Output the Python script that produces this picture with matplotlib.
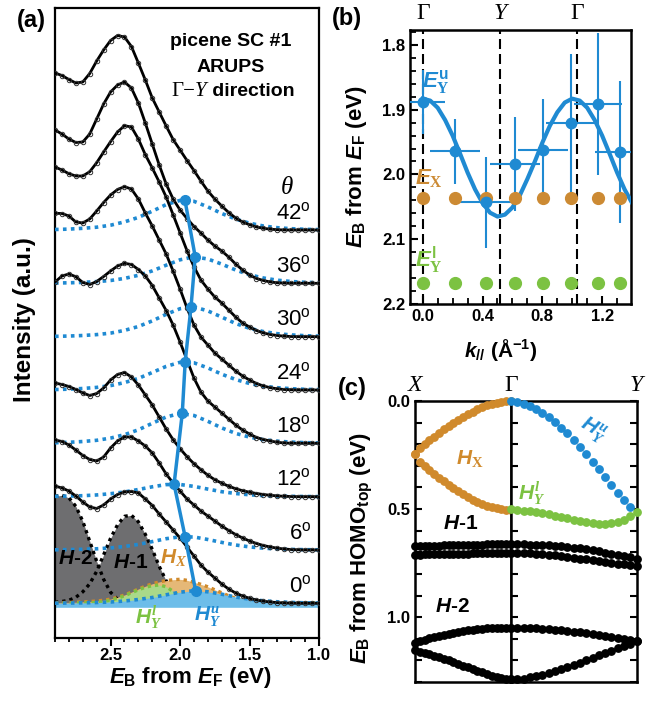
import numpy as np
import matplotlib
matplotlib.use('Agg')
import matplotlib.pyplot as plt
from matplotlib.ticker import MultipleLocator
from matplotlib.offsetbox import TextArea, HPacker, AnnotationBbox

plt.rcParams['font.family'] = ['Liberation Sans', 'DejaVu Sans']
plt.rcParams['font.weight'] = 'bold'
plt.rcParams['mathtext.fontset'] = 'custom'
plt.rcParams['mathtext.rm'] = 'Liberation Sans:bold'
plt.rcParams['mathtext.it'] = 'Liberation Sans:italic:bold'
plt.rcParams['mathtext.bf'] = 'Liberation Sans:bold'
plt.rcParams['mathtext.sf'] = 'Liberation Serif:italic'
plt.rcParams['mathtext.tt'] = 'Liberation Serif'

# colours
blue = '#1f8ad2'
blue_fill = '#6dbde9'
orange = '#d08a2c'
orange_fill = '#e5b877'
green = '#7cc242'
green_fill = '#a9d98a'
gray_fill = '#6e6e70'

# ---------------- panel (a) data ----------------
E_fine = [2.90, 2.85, 2.80, 2.75, 2.70, 2.65, 2.60, 2.55, 2.50, 2.45,
          2.40, 2.35, 2.30, 2.25, 2.20, 2.15, 2.10, 2.05, 2.00, 1.95,
          1.90, 1.85, 1.80, 1.75, 1.70, 1.65, 1.60, 1.55, 1.50, 1.45,
          1.40, 1.35, 1.30, 1.25, 1.20, 1.15, 1.10, 1.05, 1.00]
E_coarse = [2.9, 2.8, 2.7, 2.6, 2.5, 2.4, 2.3, 2.2, 2.1, 2.0,
            1.9, 1.8, 1.7, 1.6, 1.5, 1.4, 1.3, 1.2, 1.1, 1.0]

angles = ['0', '6', '12', '18', '24', '30', '36', '42']
offsets = [34.7, 88.0, 141.3, 194.7, 248.0, 301.3, 354.7, 408.0]

spec_00 = [117.3, 115.3, 112.3, 107.3, 101.3, 96.3, 94.8, 98.3, 104.3, 108.8,
           111.3, 111.8, 110.3, 104.3, 97.8, 89.3, 81.3, 73.3, 65.3, 56.3,
           47.3, 38.3, 31.3, 25.3, 19.3, 14.3, 10.3, 7.3, 5.0, 3.3,
           2.1, 1.3, 0.7, 0.3, 0.1, 0, 0, 0, 0]
spec_06 = [110, 108.5, 105, 100, 94.5, 90.5, 89, 93, 102, 109,
           113, 113, 109, 104, 97, 87, 76, 67, 59, 51,
           45, 39, 34, 29, 24, 19.5, 15.5, 12, 9, 6.5,
           4.5, 3, 1.8, 1, 0.5, 0.2, 0, 0, 0]
spec_12 = [113.7, 112.2, 110.2, 107.2, 103.7, 101.2, 103.2, 108.7, 116.7, 122.2,
           124.2, 119.7, 111.7, 101.7, 91.7, 79.7, 67.7, 57, 48, 40,
           33, 27, 21.5, 17, 13.5, 10.5, 8, 6, 4.5, 3.2,
           2.2, 1.4, 0.8, 0.4, 0.2, 0, 0, 0, 0]
spec_18 = [161.3, 167.3, 169.3, 166.6, 160.8, 158.8, 161.8, 166.8, 172.3, 177.3,
           180, 178.8, 173.8, 167.3, 157.8, 145.3, 132.8, 118.3, 101.3, 83.3,
           65.3, 51.3, 42.3, 36.3, 30.3, 24.3, 18.3, 13.3, 9.3, 5.8,
           3.8, 2.3, 1, 0.3, 0, 0, 0, 0, 0]
spec_24 = [176.7, 176.5, 174, 168, 167, 171, 179, 187.5, 195, 200.5,
           203.3, 201, 191, 177, 164, 150, 136, 119, 101, 82,
           65, 53, 45, 37, 31, 25, 19, 14, 10, 6.5,
           4, 2.3, 1.2, 0.5, 0.2, 0, 0, 0, 0]
spec_30 = [169.7, 166.7, 163, 160.7, 160.7, 165, 174, 184.7, 195, 204.7,
           211, 209.7, 197.7, 182, 168.7, 154.7, 139.7, 122, 104, 86,
           70, 56.7, 47.7, 39.7, 33.7, 26.7, 19.7, 13.7, 9.7, 6.2,
           3.7, 2.2, 1.2, 0.5, 0.2, 0, 0, 0, 0]
spec_36 = [153.3, 149.3, 144.3, 140.8, 141.3, 149.3, 164.3, 179.3, 191.3, 198.3,
           201.3, 195.3, 180.3, 160.3, 139.3, 118.3, 99.3, 84.3, 73.3, 64.8,
           56.8, 50.3, 43.3, 37.3, 32.3, 26.3, 19.3, 13.3, 8.3, 4.8,
           2.8, 1.3, 0.5, 0.2, 0, 0, 0, 0, 0]
spec_42 = [157, 154.5, 150.5, 147, 148, 156.5, 169, 180, 189.5, 194.5,
           193, 183.5, 167, 150, 132, 118, 104, 90.5, 80, 69.5,
           59.5, 49, 39, 31, 24, 17.5, 12, 8, 5.3, 3,
           1.7, 0.8, 0.3, 0, 0, 0, 0, 0, 0]

# H_Y^u component for each angle (blue dotted)
dot_00 = [0.13, 0.24, 0.43, 0.78, 1.3, 2.3, 3.8, 5.8, 8.5, 11.1, 12.6, 11.5, 9.1, 6.3, 4.1, 2.5, 1.5, 0.87, 0.48, 0.28]
dot_06 = [0.22, 0.4, 0.73, 1.2, 2.1, 3.5, 5.6, 8.4, 11.3, 13.2, 13.0, 10.5, 7.6, 5.0, 3.1, 1.8, 1.1, 0.6, 0.34, 0.19]
dot_12 = [0.33, 0.6, 1.0, 1.75, 3.0, 4.75, 7.2, 9.9, 12.1, 12.2, 10.3, 7.6, 5.0, 3.2, 1.9, 1.1, 0.65, 0.36, 0.2, 0.1]
dot_18 = [0.55, 1.0, 1.8, 3.0, 5.2, 8.6, 13.5, 20.0, 26.3, 29.9, 27.8, 22.0, 15.4, 9.9, 6.2, 3.6, 2.1, 1.2, 0.66, 0.36]
dot_24 = [0.45, 0.85, 1.5, 2.6, 4.4, 7.4, 11.6, 17.5, 23.6, 27.7, 27.2, 22.1, 15.8, 10.5, 6.5, 3.8, 2.3, 1.3, 0.7, 0.4]
dot_30 = [0.36, 0.66, 1.2, 2.1, 3.6, 6.3, 10.2, 15.8, 22.4, 28.0, 29.8, 25.8, 19.6, 13.2, 8.4, 5.1, 3.0, 1.8, 1.0, 0.55]
dot_36 = [0.27, 0.5, 0.9, 1.7, 2.8, 4.9, 8.0, 12.4, 18.1, 23.5, 26.5, 24.3, 19.2, 13.3, 8.5, 5.3, 3.1, 1.8, 1.0, 0.56]
dot_42 = [0.5, 0.9, 1.7, 2.8, 4.8, 8.1, 12.6, 18.8, 25.4, 29.6, 28.7, 23.1, 16.5, 11.0, 6.8, 4.0, 2.3, 1.3, 0.7, 0.4]

Yu_heights = [12.6, 13.5, 12.5, 30.0, 28.3, 30.0, 26.6, 30.0]

# components of the 0 deg spectrum
comp_H2 = [107, 108, 105.5, 97, 82, 62, 42, 24, 11, 4, 1.5, 0.5, 0, 0, 0, 0, 0, 0, 0, 0,
           0, 0, 0, 0, 0, 0, 0, 0, 0, 0, 0, 0, 0, 0, 0, 0, 0, 0, 0]
comp_H1 = [1, 1.8, 3, 6, 11.5, 19.5, 32, 48.5, 65, 78.5, 87, 88, 81.5, 69, 54, 37, 22.5, 12.5, 6, 2.5,
           1, 0.3, 0, 0, 0, 0, 0, 0, 0, 0, 0, 0, 0, 0, 0, 0, 0, 0, 0]
comp_HX = [0.5, 0.7, 0.9, 1.1, 1.4, 1.8, 2.3, 3.1, 4.2, 6, 8.3, 11.2, 14.3, 17.1, 19.5, 21.4, 22.7, 23.6, 24, 23,
           21, 19, 16.5, 13.5, 10.5, 7.5, 5, 3, 1.5, 0.7, 0.3, 0.1, 0, 0, 0, 0, 0, 0, 0]
comp_HYl = [0, 0, 0, 0.1, 0.2, 0.4, 0.8, 1.6, 3, 5, 7.5, 10.5, 13.5, 16, 17.6, 18.3, 16.5, 12, 7, 3.5,
            1.2, 0.3, 0, 0, 0, 0, 0, 0, 0, 0, 0, 0, 0, 0, 0, 0, 0, 0, 0]

# ---------------- panel (b) data ----------------
k_pts = [0.0, 0.216, 0.42, 0.617, 0.806, 0.99, 1.17, 1.32]
E_Yu = [1.888, 1.964, 2.043, 1.984, 1.963, 1.921, 1.891, 1.965]
k_err = [0.15, 0.17, 0.23, 0.167, 0.167, 0.167, 0.16, 0.167]
E_err = [0.05, 0.05, 0.07, 0.072, 0.079, 0.107, 0.11, 0.11]
E_X = [2.036, 2.036, 2.036, 2.036, 2.036, 2.036, 2.036, 2.036]
E_Yl = [2.168, 2.168, 2.168, 2.168, 2.168, 2.168, 2.168, 2.168]
k_fit = [0.00, 0.05, 0.10, 0.15, 0.20, 0.25, 0.30, 0.35, 0.40, 0.45,
         0.50, 0.55, 0.60, 0.65, 0.70, 0.75, 0.80, 0.85, 0.90, 0.95,
         1.00, 1.05, 1.10, 1.15, 1.20, 1.25, 1.30, 1.35, 1.40]
E_fit = [1.883, 1.886, 1.897, 1.916, 1.940, 1.968, 1.997, 2.023, 2.044, 2.059,
         2.065, 2.062, 2.051, 2.032, 2.007, 1.980, 1.951, 1.925, 1.904, 1.889,
         1.883, 1.886, 1.897, 1.916, 1.940, 1.968, 1.997, 2.023, 2.044]
sym_k = [0.0, 0.517, 1.031]

# ---------------- panel (c) data ----------------
kc = [0.00, 0.05, 0.10, 0.15, 0.20, 0.25, 0.30, 0.35, 0.40, 0.45, 0.50,
      0.55, 0.60, 0.65, 0.70, 0.75, 0.80, 0.85, 0.90, 0.95, 1.00]
HX_up = [0.246, 0.218, 0.200, 0.182, 0.165, 0.148, 0.131, 0.115, 0.102, 0.088, 0.074,
         0.062, 0.049, 0.038, 0.029, 0.020, 0.012, 0.008, 0.003, 0.001, 0.0]
HX_lo = [0.246, 0.280, 0.300, 0.318, 0.337, 0.354, 0.371, 0.388, 0.403, 0.418, 0.432,
         0.445, 0.457, 0.468, 0.477, 0.486, 0.492, 0.497, 0.500, 0.502, 0.503]
H1a_XG = [0.672, 0.671, 0.671, 0.670, 0.670, 0.669, 0.668, 0.668, 0.667, 0.666, 0.666,
          0.665, 0.665, 0.664, 0.664, 0.663, 0.663, 0.663, 0.662, 0.662, 0.662]
H1b_XG = [0.711, 0.711, 0.710, 0.710, 0.709, 0.709, 0.708, 0.708, 0.707, 0.707, 0.706,
          0.706, 0.705, 0.705, 0.705, 0.704, 0.704, 0.704, 0.703, 0.703, 0.703]
H2a_XG = [1.118, 1.111, 1.104, 1.098, 1.092, 1.086, 1.081, 1.076, 1.072, 1.068, 1.064,
          1.061, 1.058, 1.056, 1.054, 1.052, 1.051, 1.050, 1.049, 1.049, 1.049]
H2b_XG = [1.154, 1.160, 1.166, 1.172, 1.179, 1.186, 1.193, 1.200, 1.208, 1.216, 1.224,
          1.232, 1.240, 1.248, 1.256, 1.263, 1.270, 1.276, 1.281, 1.285, 1.288]
HYu = [0.0, 0.004, 0.012, 0.023, 0.037, 0.054, 0.074, 0.097, 0.123, 0.150, 0.180,
       0.212, 0.245, 0.280, 0.316, 0.353, 0.390, 0.425, 0.458, 0.490]
HYl = [0.500, 0.505, 0.508, 0.511, 0.514, 0.518, 0.525, 0.531, 0.537, 0.543, 0.549,
       0.555, 0.562, 0.566, 0.569, 0.569, 0.566, 0.560, 0.549, 0.534, 0.514]
H1a_GY = [0.662, 0.662, 0.663, 0.664, 0.665, 0.666, 0.668, 0.670, 0.672, 0.675, 0.678,
          0.682, 0.686, 0.691, 0.696, 0.701, 0.706, 0.712, 0.718, 0.724, 0.729]
H1b_GY = [0.703, 0.703, 0.704, 0.705, 0.707, 0.709, 0.711, 0.714, 0.717, 0.721, 0.725,
          0.729, 0.733, 0.737, 0.741, 0.745, 0.749, 0.753, 0.756, 0.759, 0.762]
H2a_GY = [1.049, 1.049, 1.050, 1.051, 1.052, 1.054, 1.056, 1.058, 1.061, 1.064, 1.067,
          1.070, 1.074, 1.078, 1.082, 1.086, 1.090, 1.095, 1.100, 1.105, 1.111]
H2b_GY = [1.288, 1.287, 1.284, 1.279, 1.273, 1.266, 1.258, 1.249, 1.240, 1.230, 1.220,
          1.210, 1.199, 1.188, 1.177, 1.166, 1.155, 1.144, 1.133, 1.122, 1.111]

W, H = 658, 707


def fpos(x, y):
    return x / W, 1 - y / H


fig = plt.figure(figsize=(W / 100, H / 100), dpi=100)

# ================= (a) =================
axa = fig.add_axes([55 / W, 1 - 638 / H, 264 / W, 630 / H])
E_fine = np.array(E_fine)
E_coarse = np.array(E_coarse)
spectra = [spec_00, spec_06, spec_12, spec_18, spec_24, spec_30, spec_36, spec_42]
dots = [dot_00, dot_06, dot_12, dot_18, dot_24, dot_30, dot_36, dot_42]
base = offsets[0]
dotted = (0, (1, 1.2))

# components of the 0 deg spectrum
axa.fill_between(E_fine, base, base + np.array(comp_H2), color=gray_fill, lw=0, zorder=1)
axa.fill_between(E_fine, base, base + np.array(comp_H1), color=gray_fill, lw=0, zorder=1)
axa.plot(E_fine, base + np.array(comp_H2), color='k', lw=2.4, ls=dotted, zorder=1.5)
axa.plot(E_fine, base + np.array(comp_H1), color='k', lw=2.4, ls=dotted, zorder=1.5)
axa.fill_between(E_fine, base, base + np.array(comp_HX), color=orange_fill, lw=0, zorder=2)
axa.plot(E_fine, base + np.array(comp_HX), color=orange, lw=2.4, ls=dotted, zorder=2.1)
axa.fill_between(E_fine, base, base + np.array(comp_HYl), color=green_fill, lw=0, zorder=2.2)
axa.plot(E_fine, base + np.array(comp_HYl), color=green, lw=2.4, ls=dotted, zorder=2.3)
axa.fill_between(E_coarse, base - 4, base + np.array(dot_00), color=blue_fill, lw=0, zorder=2.4)

for off, spec, dot, ang in zip(offsets, spectra, dots, angles):
    axa.plot(E_coarse, off + np.array(dot), color=blue, lw=2.6, ls=dotted, zorder=3)
    axa.plot(E_fine, off + np.array(spec), color='k', lw=2.0, zorder=5)
    axa.plot(E_fine, off + np.array(spec), 'o', ms=3.2, mfc='none', mec='#333333',
             mew=0.7, zorder=6)
    axa.text(1.057, off + 17, ang + r'$^{\mathregular{o}}$', ha='right', va='center',
             fontsize=16, fontweight='normal', zorder=9)

axa.plot(E_Yu, np.array(offsets) + np.array(Yu_heights), '-o', color=blue, lw=2.5,
         ms=7, zorder=8)

axa.set_xlim(2.9, 1.0)
axa.set_ylim(0, 630)
axa.set_yticks([])
axa.xaxis.set_major_locator(MultipleLocator(0.5))
axa.xaxis.set_minor_locator(MultipleLocator(0.1))
axa.tick_params(axis='x', which='major', direction='out', length=5.5, width=1.5,
                labelsize=12, pad=1.5)
axa.tick_params(axis='x', which='minor', direction='out', length=3, width=1.3)
for s in axa.spines.values():
    s.set_linewidth(1.6)

axa.text(1.229, 450, 'θ', ha='center', va='center', fontsize=18,
         fontweight='normal', family='Liberation Serif', style='italic')
axa.text(1.639, 596, 'picene SC #1', ha='center', va='center', fontsize=14)
axa.text(1.639, 571, 'ARUPS', ha='center', va='center', fontsize=14)
box = HPacker(children=[
    TextArea('Γ\u2212', textprops=dict(family='Liberation Serif', size=15, weight='normal')),
    TextArea('Y', textprops=dict(family='Liberation Serif', style='italic', size=15,
                                 weight='normal')),
    TextArea(' direction', textprops=dict(size=14, weight='bold'))],
    pad=0, sep=0, align='baseline')
axa.add_artist(AnnotationBbox(box, (1.62, 546), frameon=False, box_alignment=(0.5, 0.5)))

axa.text(2.751, 80, r'$H$-2', ha='center', va='center', fontsize=15, zorder=9)
axa.text(2.356, 75, r'$H$-1', ha='center', va='center', fontsize=15, zorder=9)
axa.text(2.044, 80, r'$H_{\mathsf{X}}$', ha='center', va='center', fontsize=15,
         color=orange, zorder=9)
axa.text(2.227, 21, r'$H_{\mathsf{Y}}^{\mathsf{l}}$', ha='center', va='center',
         fontsize=15, color=green, zorder=9)
axa.text(1.804, 21, r'$H_{\mathsf{Y}}^{\mathsf{u}}$', ha='center', va='center',
         fontsize=15, color=blue, zorder=9)

fig.text(*fpos(25, 320), 'Intensity (a.u.)', rotation=90, ha='center', va='center',
         fontsize=17.5)
fig.text(*fpos(190, 677), r'$E_\mathrm{B}$ from $E_\mathrm{F}$ (eV)', ha='center',
         va='center', fontsize=16)
fig.text(*fpos(31, 20), '(a)', ha='center', va='center', fontsize=17)

# ================= (b) =================
axb = fig.add_axes([410 / W, 1 - 304 / H, 221 / W, 274 / H])
for k in sym_k:
    axb.axvline(k, color='k', lw=1.5, dashes=(4.8, 2.4), zorder=1)
axb.plot(k_fit, E_fit, color=blue, lw=3, zorder=3)
axb.errorbar(k_pts, E_Yu, xerr=k_err, yerr=E_err, fmt='o', color=blue, ms=7.5,
             elinewidth=1.5, capsize=0, zorder=4)
axb.plot(k_pts, E_X, 'o', color='#cc8a33', ms=8.5, zorder=4)
axb.plot(k_pts, E_Yl, 'o', color=green, ms=8.5, zorder=4)
axb.set_xlim(-0.085, 1.393)
axb.set_ylim(2.2, 1.777)
axb.xaxis.set_major_locator(MultipleLocator(0.4))
axb.xaxis.set_minor_locator(MultipleLocator(0.1))
axb.yaxis.set_major_locator(MultipleLocator(0.1))
axb.yaxis.set_minor_locator(MultipleLocator(0.02))
axb.tick_params(which='major', direction='in', length=6, width=1.5, labelsize=12)
axb.tick_params(which='minor', direction='in', length=4, width=1.3)
for s in axb.spines.values():
    s.set_linewidth(1.8)
for k, lab, st in zip(sym_k, ['Γ', 'Y', 'Γ'], ['normal', 'italic', 'normal']):
    axb.text(k, 1.062, lab, transform=axb.get_xaxis_transform(), ha='center',
             va='center', fontsize=17, family='Liberation Serif', style=st,
             fontweight='normal')
axb.text(-0.005, 1.857, r'$E_{\mathtt{Y}}^{\mathrm{u}}$', color=blue, fontsize=16,
         ha='left', va='center')
axb.text(-0.05, 2.006, r'$E_{\mathtt{X}}$', color='#cc8a33', fontsize=16,
         ha='left', va='center')
axb.text(-0.05, 2.132, r'$E_{\mathtt{Y}}^{\mathrm{l}}$', color=green, fontsize=16,
         ha='left', va='center')
fig.text(*fpos(357, 167), r'$E_\mathrm{B}$ from $E_\mathrm{F}$ (eV)', rotation=90,
         ha='center', va='center', fontsize=16)
fig.text(*fpos(501, 350), r'$k_{//}$ (Å$^{-1}$)', ha='center', va='center', fontsize=15)
fig.text(*fpos(347, 18), '(b)', ha='center', va='center', fontsize=17)

# ================= (c) =================
axc1 = fig.add_axes([415 / W, 1 - 682 / H, 96 / W, 281 / H])
axc2 = fig.add_axes([511 / W, 1 - 682 / H, 125.5 / W, 281 / H])
dms = 5.3
axc1.plot(kc, HX_up, 'o', color=orange, ms=dms, clip_on=False, zorder=4)
axc1.plot(kc, HX_lo, 'o', color=orange, ms=dms, clip_on=False, zorder=4)
for band in [H1a_XG, H1b_XG, H2a_XG, H2b_XG]:
    axc1.plot(kc, band, 'o', color='k', ms=dms, clip_on=False, zorder=4)
axc2.plot(kc[:len(HYu)], HYu, 'o', color=blue, ms=dms, clip_on=False, zorder=4)
axc2.plot(kc, HYl, 'o', color=green, ms=dms, clip_on=False, zorder=4)
for band in [H1a_GY, H1b_GY, H2a_GY, H2b_GY]:
    axc2.plot(kc, band, 'o', color='k', ms=dms, clip_on=False, zorder=4)

for ax in (axc1, axc2):
    ax.set_xlim(0, 1)
    ax.set_ylim(1.3, 0.0)
    ax.set_xticks([])
    ax.yaxis.set_major_locator(MultipleLocator(0.5))
    ax.yaxis.set_minor_locator(MultipleLocator(0.1))
    for s in ax.spines.values():
        s.set_linewidth(1.8)
axc1.tick_params(axis='y', which='both', direction='in', length=5, width=1.5,
                 labelsize=12, right=False)
axc2.tick_params(axis='y', which='both', direction='in', length=5, width=1.5,
                 left=True, right=True, labelleft=False)

axc1.text(0, 1.055, 'X', transform=axc1.transAxes, ha='center', va='center',
          fontsize=17, family='Liberation Serif', style='italic', fontweight='normal')
axc2.text(0, 1.055, 'Γ', transform=axc2.transAxes, ha='center', va='center',
          fontsize=17, family='Liberation Serif', fontweight='normal')
axc2.text(1, 1.055, 'Y', transform=axc2.transAxes, ha='center', va='center',
          fontsize=17, family='Liberation Serif', style='italic', fontweight='normal')
axc1.text(0.57, 0.268, r'$H_{\mathtt{X}}$', color=orange, fontsize=15, ha='center',
          va='center')
axc1.text(0.47, 0.567, r'$H$-1', fontsize=15, ha='center', va='center')
axc1.text(0.385, 0.95, r'$H$-2', fontsize=15, ha='center', va='center')
axc2.text(0.65, 0.135, r'$H_{\mathsf{Y}}^{\mathsf{u}}$', color=blue, fontsize=15,
          ha='center', va='center', rotation=-30)
axc2.text(0.167, 0.425, r'$H_{\mathsf{Y}}^{\mathsf{l}}$', color=green, fontsize=15,
          ha='center', va='center')
fig.text(*fpos(362, 548), r'$E_\mathrm{B}$ from HOMO$_\mathrm{top}$ (eV)', rotation=90,
         ha='center', va='center', fontsize=16)
fig.text(*fpos(352, 389), '(c)', ha='center', va='center', fontsize=17)

fig.savefig('out.png', dpi=100)
